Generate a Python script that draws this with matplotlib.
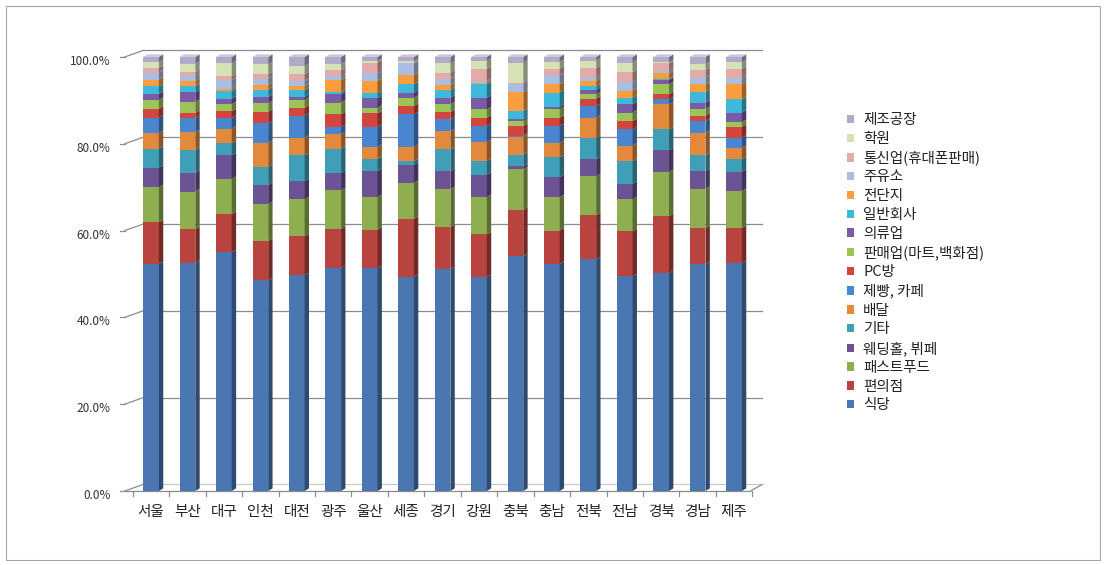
import numpy as np
import matplotlib
matplotlib.use("Agg")
import matplotlib.pyplot as plt
from matplotlib.patches import Polygon, Patch, Rectangle
from matplotlib.colors import to_rgb
from matplotlib.transforms import ScaledTranslation

plt.rcParams['font.family'] = ['Noto Sans CJK KR', 'DejaVu Sans']

regions = ['서울', '부산', '대구', '인천', '대전', '광주', '울산', '세종', '경기',
           '강원', '충북', '충남', '전북', '전남', '경북', '경남', '제주']

# share by business type (%), bottom of the stack first
식당 = [52.3, 52.5, 55.0, 48.5, 49.7, 51.4, 51.4, 49.4, 51.1, 49.3, 54.1, 52.3, 53.4, 49.5, 50.2, 52.3, 52.5]
편의점 = [9.6, 7.8, 8.8, 9.1, 9.0, 9.0, 8.8, 13.3, 9.7, 9.8, 10.7, 7.7, 10.1, 10.3, 13.1, 8.3, 8.1]
패스트푸드 = [8.1, 8.7, 8.1, 8.5, 8.5, 8.9, 7.5, 8.3, 8.7, 8.6, 9.3, 7.7, 9.0, 7.4, 10.2, 9.0, 8.5]
웨딩홀 = [4.5, 4.3, 5.4, 4.4, 4.2, 4.0, 6.0, 4.2, 4.2, 5.2, 0.7, 4.6, 3.9, 3.6, 5.0, 4.1, 4.4]
기타 = [4.4, 5.3, 2.8, 4.2, 5.9, 5.6, 2.8, 0.8, 5.0, 3.1, 2.7, 4.6, 5.0, 5.2, 4.8, 3.6, 2.9]
배달 = [3.6, 4.0, 3.4, 5.5, 4.1, 3.3, 2.8, 3.3, 4.2, 4.4, 4.1, 3.3, 4.6, 3.6, 5.8, 5.2, 2.7]
제빵카페 = [3.5, 3.3, 2.5, 4.5, 5.1, 1.7, 4.6, 7.5, 2.7, 3.7, 0.3, 3.9, 2.7, 3.7, 1.1, 2.7, 2.3]
PC방 = [2.1, 1.2, 1.5, 2.7, 1.8, 2.9, 3.1, 1.9, 1.7, 1.9, 2.2, 1.9, 1.7, 1.9, 1.2, 1.3, 2.5]
판매업 = [2.0, 2.5, 1.6, 1.9, 1.8, 2.7, 1.3, 1.9, 1.8, 1.9, 1.1, 1.9, 1.0, 2.0, 2.3, 1.5, 1.1]
의류업 = [1.4, 2.3, 1.3, 1.5, 0.7, 1.9, 2.2, 1.2, 1.5, 2.7, 0.4, 0.6, 1.0, 1.9, 1.0, 1.5, 2.2]
일반회사 = [1.7, 1.4, 1.8, 1.7, 1.6, 0.5, 1.1, 1.9, 1.8, 3.1, 1.9, 3.3, 0.8, 1.5, 0.3, 2.4, 3.0]
전단지 = [1.6, 1.2, 0.5, 1.0, 0.8, 2.8, 2.9, 2.1, 1.1, 0.4, 4.4, 1.9, 1.3, 1.6, 1.2, 1.8, 3.5]
주유소 = [1.6, 1.2, 2.0, 1.5, 1.3, 0.8, 1.7, 2.7, 1.5, 0.4, 1.8, 2.1, 0.7, 2.0, 0.6, 1.5, 1.5]
통신업 = [1.1, 0.8, 0.9, 1.0, 1.5, 1.5, 2.5, 0.2, 1.4, 2.7, 0.4, 1.5, 2.3, 2.3, 1.7, 1.8, 2.0]
학원 = [1.3, 1.9, 2.9, 2.3, 1.9, 1.3, 0.3, 0.3, 2.1, 1.9, 4.6, 1.5, 1.6, 2.2, 0.3, 1.3, 1.6]
제조공장 = [1.2, 1.6, 1.5, 1.7, 2.1, 1.7, 1.0, 1.0, 1.5, 0.9, 1.3, 1.2, 0.9, 1.3, 1.2, 1.7, 1.2]

series = [
    ('식당', 식당, '#4a77b2'),
    ('편의점', 편의점, '#b8433f'),
    ('패스트푸드', 패스트푸드, '#8fae4f'),
    ('웨딩홀, 뷔페', 웨딩홀, '#6c5393'),
    ('기타', 기타, '#3f9fb9'),
    ('배달', 배달, '#e3893b'),
    ('제빵, 카페', 제빵카페, '#4a86cf'),
    ('PC방', PC방, '#d3453f'),
    ('판매업(마트,백화점)', 판매업, '#9dc457'),
    ('의류업', 의류업, '#7a5ba6'),
    ('일반회사', 일반회사, '#3fb9d9'),
    ('전단지', 전단지, '#f99d3e'),
    ('주유소', 주유소, '#a9bee0'),
    ('통신업(휴대폰판매)', 통신업, '#e2aaa8'),
    ('학원', 학원, '#d5e2b6'),
    ('제조공장', 제조공장, '#b3a9c9'),
]

W, H = 1106, 565
fig = plt.figure(figsize=(W / 100, H / 100), dpi=100)
fig.patches.append(Rectangle((6 / W, 5 / H), 1094 / W, 554 / H, transform=fig.transFigure,
                             fill=False, ec='#a6a6a6', lw=0.8))

ax = fig.add_axes([114.6 / W, 61 / H, 655.9 / W, 464.4 / H])
ax.set_xlim(-1.0, 17.0)
ax.set_ylim(-3, 104)
for s in ax.spines.values():
    s.set_visible(False)

x = np.arange(len(regions))
w = 0.43          # bar face width
dx, dy = 0.12, 0.6  # bar depth
wall_x, wall_dy = -0.22, 1.5  # back wall offset
front_x = -0.72
right_x = 16.77
grid_c = '#8c8c8c'

# back wall gridlines and the left wall connectors
for v in range(0, 101, 20):
    if v > 0:
        ax.plot([wall_x, right_x], [v + wall_dy, v + wall_dy], color=grid_c, lw=0.9, zorder=0)
    ax.plot([front_x, wall_x], [v, v + wall_dy], color=grid_c, lw=0.9, zorder=0)
    ax.plot([front_x - 0.12, front_x], [v, v], color=grid_c, lw=0.9, zorder=0)

# floor
ax.plot([front_x, 16.45], [0, 0], color=grid_c, lw=0.9, zorder=0)
ax.plot([wall_x, right_x], [wall_dy, wall_dy], color='#c8c8c8', lw=0.8, zorder=0)
ax.plot([16.45, right_x], [0, wall_dy], color=grid_c, lw=0.9, zorder=0)
for b in np.arange(-0.5, 17.0, 1.0):
    ax.plot([b, b], [0, -1.2], color=grid_c, lw=0.9, zorder=0)

def shade(c, f):
    r, g, b = to_rgb(c)
    return (r * f, g * f, b * f)

bottom = np.zeros(len(regions))
for name, vals, col in series:
    vals = np.array(vals)
    ax.bar(x, vals, bottom=bottom, width=w, color=col, edgecolor='none', zorder=3)
    for xi, b, h in zip(x, bottom, vals):
        xr = xi + w / 2
        side = [(xr, b), (xr + dx, b + dy), (xr + dx, b + h + dy), (xr, b + h)]
        ax.add_patch(Polygon(side, closed=True, fc=shade(col, 0.62), ec='none', zorder=3))
    bottom = bottom + vals

# top faces
for xi, t in zip(x, bottom):
    xl, xr = xi - w / 2, xi + w / 2
    top = [(xl, t), (xl + dx, t + dy), (xr + dx, t + dy), (xr, t)]
    ax.add_patch(Polygon(top, closed=True, fc='#cdc6dc', ec='none', zorder=4))

ax.set_xticks(x)
ax.set_xticklabels(regions, fontsize=10.5, color='#222222')
ax.set_yticks(range(0, 101, 20))
ax.set_yticklabels([f'{v:.1f}%' for v in range(0, 101, 20)], fontsize=8.5, color='#333333')
ax.tick_params(axis='x', length=0, pad=1)
ax.tick_params(axis='y', length=0, pad=3)
shift = ScaledTranslation(0, -3 / 100, fig.dpi_scale_trans)
for lbl in ax.get_yticklabels():
    lbl.set_transform(lbl.get_transform() + shift)

handles = [Patch(fc=col, ec='none', label=name) for name, vals, col in series][::-1]
fig.legend(handles=handles, loc='upper left', bbox_to_anchor=(834 / W, 1 - 100 / H),
           frameon=False, fontsize=10.5, labelspacing=0.33, handlelength=0.5,
           handleheight=0.5, handletextpad=0.6, labelcolor='#222222')

fig.savefig('out.png', dpi=100)
